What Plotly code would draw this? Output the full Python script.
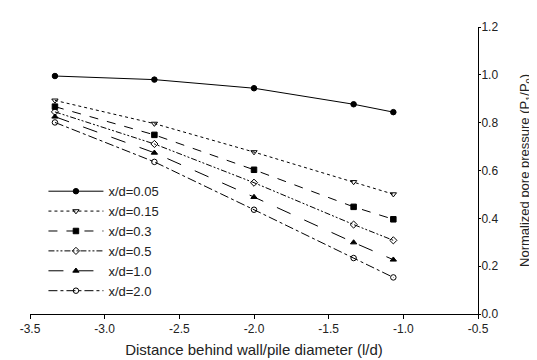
import plotly.graph_objects as go

x_vals = [-3.333, -2.667, -2.0, -1.333, -1.067]
labels = ["x/d=0.05", "x/d=0.15", "x/d=0.3", "x/d=0.5", "x/d=1.0", "x/d=2.0"]
y_005 = [0.995, 0.980, 0.944, 0.877, 0.844]
y_015 = [0.893, 0.796, 0.677, 0.552, 0.501]
y_03 = [0.867, 0.749, 0.603, 0.448, 0.396]
y_05 = [0.845, 0.711, 0.549, 0.374, 0.308]
y_10 = [0.825, 0.674, 0.489, 0.299, 0.227]
y_20 = [0.801, 0.636, 0.436, 0.234, 0.153]

series = [y_005, y_015, y_03, y_05, y_10, y_20]
dashes = ["solid", "dot", "dash", "6px,2px,2px,2px,2px,2px", "longdash", "dashdot"]
symbols = ["circle", "triangle-down-open", "square", "diamond-open", "triangle-up", "circle-open"]

fig = go.Figure()
for lab, ys, d, s in zip(labels, series, dashes, symbols):
    fig.add_trace(go.Scatter(
        x=x_vals, y=ys, name=lab, mode="lines+markers",
        line=dict(color="black", width=1, dash=d),
        marker=dict(symbol=s, size=5.5, color="black",
                    line=dict(color="black", width=1)),
    ))

font = "Liberation Sans, Arial, sans-serif"
fig.update_layout(
    width=537, height=360,
    margin=dict(l=19, r=67, t=18, b=50),
    paper_bgcolor="white", plot_bgcolor="white",
    font=dict(family=font, size=12, color="#222"),
    legend=dict(x=0.03, y=0.48, xanchor="left", yanchor="top",
                bgcolor="rgba(0,0,0,0)", font=dict(size=13),
                tracegroupgap=0, itemwidth=55),
    showlegend=True,
)
fig.update_xaxes(
    range=[-3.5, -0.5], tickmode="array",
    tickvals=[-3.5, -3.0, -2.5, -2.0, -1.5, -1.0, -0.5],
    ticktext=["-3.5", "-3.0", "-2.5", "-2.0", "-1.5", "-1.0", "-0.5"],
    showline=True, linecolor="black", linewidth=1,
    ticks="outside", ticklen=4, tickcolor="black",
    showgrid=False, zeroline=False,
    title=dict(text="Distance behind wall/pile diameter (l/d)",
               font=dict(size=15), standoff=9),
)
fig.update_yaxes(
    range=[0, 1.2], side="right", tickmode="array",
    tickvals=[0, 0.2, 0.4, 0.6, 0.8, 1.0, 1.2],
    ticktext=["0.0", "0.2", "0.4", "0.6", "0.8", "1.0", "1.2"],
    showline=True, linecolor="black", linewidth=1,
    ticks="outside", ticklen=2, tickcolor="black",
    ticklabelstandoff=-2,
    showgrid=False, zeroline=False,
    title=dict(text="Normalized pore pressure (P<sub>1</sub>/P<sub>0</sub>)",
               font=dict(size=13), standoff=22),
)
fig.write_html("out.html")
